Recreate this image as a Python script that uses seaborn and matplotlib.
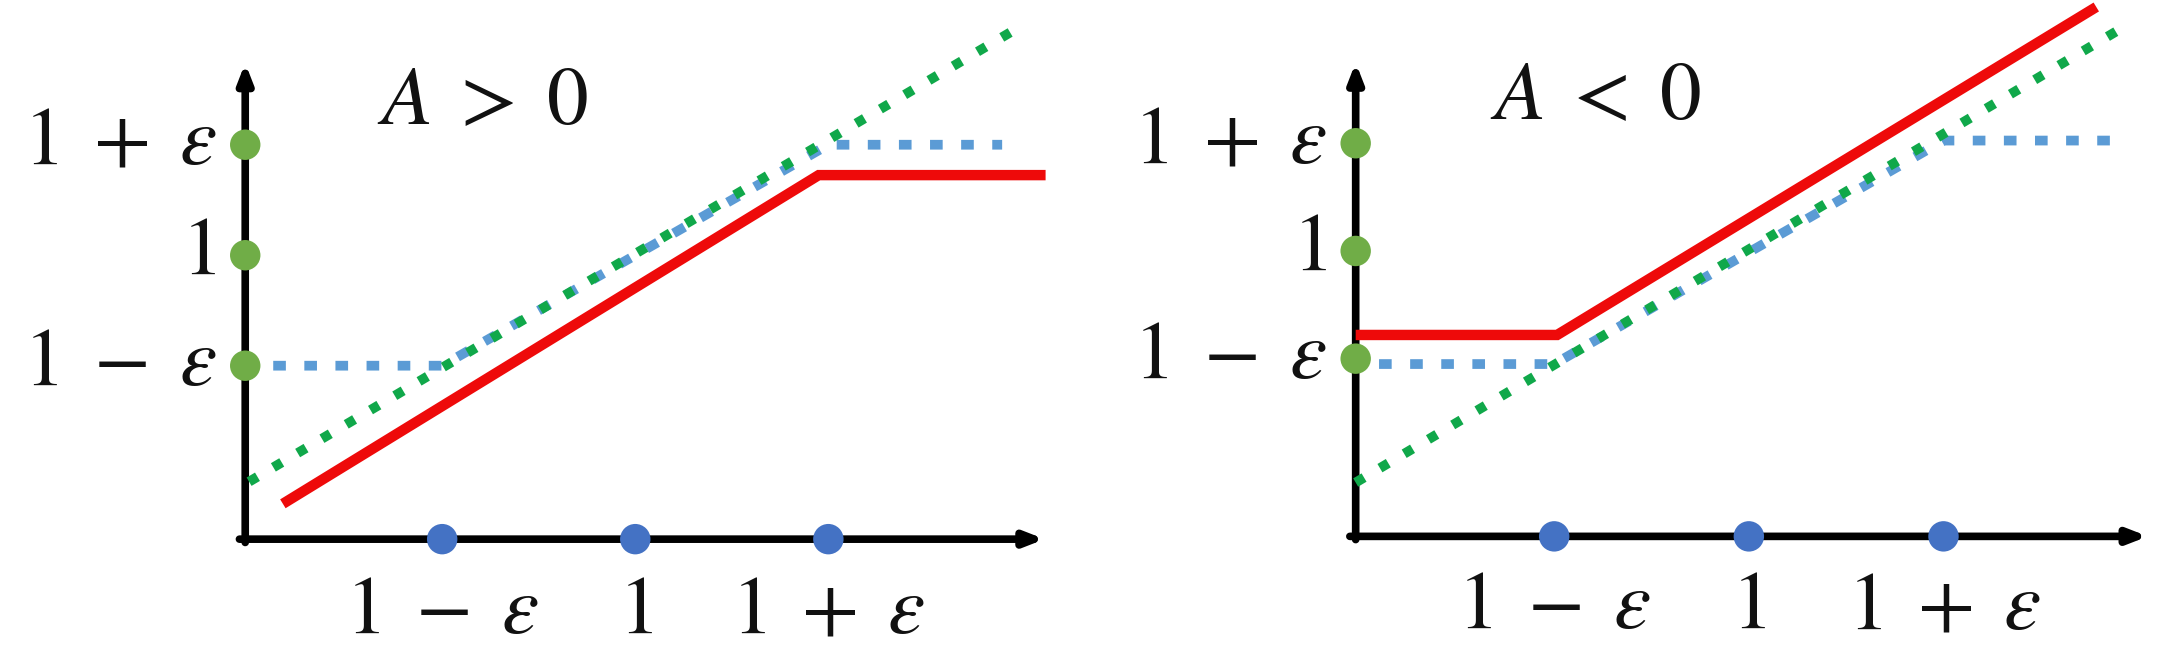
import matplotlib
matplotlib.use("Agg")
import matplotlib.pyplot as plt
import seaborn as sns

# ---------------- data ----------------
tick_vals = [0.8, 1.0, 1.2]
tick_labels = [r"$1\;-\;\varepsilon$", r"$1$", r"$1\;+\;\varepsilon$"]

# left panel (A > 0)
left_green_x = [0.60, 1.39]
left_green_y = [0.59, 1.405]
left_blue_x = [0.625, 0.80, 1.20, 1.38]
left_blue_y = [0.80, 0.80, 1.20, 1.20]
left_red_x = [0.635, 1.19, 1.425]
left_red_y = [0.55, 1.145, 1.145]

# right panel (A < 0)
right_green_x = [0.596, 1.389]
right_green_y = [0.57, 1.42]
right_blue_x = [0.62, 0.80, 1.20, 1.38]
right_blue_y = [0.79, 0.79, 1.205, 1.205]
right_red_x = [0.596, 0.803, 1.357]
right_red_y = [0.844, 0.844, 1.453]

titles = [r"$A\;>\;0$", r"$A\;<\;0$"]

sns.set_theme(style="white")
plt.rcParams["mathtext.fontset"] = "stix"
plt.rcParams["font.family"] = ["STIXGeneral", "DejaVu Serif"]

W, H = 2179, 664
fig = plt.figure(figsize=(W / 100, H / 100), dpi=100)

C_GREEN_LINE = "#10A84A"
C_BLUE_LINE = "#5B9BD5"
C_RED = "#EE0A0A"
C_GREEN_DOT = "#70AD47"
C_BLUE_DOT = "#4472C4"

panels = [
    dict(pos=[0, 0, 1090 / W, 1], xlim=(0.342, 1.471), ylim=(0.26, 1.462),
         ax0=(0.596, 0.486), xend=1.424, yend=1.348,
         g=(left_green_x, left_green_y), b=(left_blue_x, left_blue_y),
         r=(left_red_x, left_red_y), title_xy=(0.842, 1.272)),
    dict(pos=[1090 / W, 0, 1089 / W, 1], xlim=(0.323, 1.442), ylim=(0.233, 1.466),
         ax0=(0.596, 0.47), xend=1.41, yend=1.35,
         g=(right_green_x, right_green_y), b=(right_blue_x, right_blue_y),
         r=(right_red_x, right_red_y), title_xy=(0.843, 1.28)),
]

for i, p in enumerate(panels):
    ax = fig.add_axes(p["pos"])
    ax.set_xlim(*p["xlim"])
    ax.set_ylim(*p["ylim"])
    ax.axis("off")
    x0, y0 = p["ax0"]

    # axes with arrows
    ax.annotate("", xy=(p["xend"], y0), xytext=(x0 - 0.006, y0),
                arrowprops=dict(arrowstyle="-|>,head_length=0.9,head_width=0.35",
                                lw=5.5, color="black", shrinkA=0, shrinkB=0), zorder=2)
    ax.annotate("", xy=(x0, p["yend"]), xytext=(x0, y0 - 0.006),
                arrowprops=dict(arrowstyle="-|>,head_length=0.9,head_width=0.35",
                                lw=5.5, color="black", shrinkA=0, shrinkB=0), zorder=2)

    gx, gy = p["g"]
    bx, by = p["b"]
    rx, ry = p["r"]
    sns.lineplot(x=bx, y=by, ax=ax, color=C_BLUE_LINE, lw=7.0, sort=False,
                 linestyle=(0, (1.3, 1.9)), zorder=3)
    ax.lines[-1].set_dash_capstyle("butt")
    sns.lineplot(x=gx, y=gy, ax=ax, color=C_GREEN_LINE, lw=7.0, sort=False,
                 linestyle=(0, (1.0, 1.9)), zorder=4)
    ax.lines[-1].set_dash_capstyle("butt")
    sns.lineplot(x=rx, y=ry, ax=ax, color=C_RED, lw=7.5, sort=False, zorder=5)
    ax.lines[-1].set_solid_capstyle("butt")
    ax.lines[-1].set_solid_joinstyle("miter")

    # dots on axes
    sns.scatterplot(x=[x0] * 3, y=tick_vals, ax=ax, color=C_GREEN_DOT, s=480,
                    edgecolor="none", zorder=6)
    sns.scatterplot(x=tick_vals, y=[y0] * 3, ax=ax, color=C_BLUE_DOT, s=480,
                    edgecolor="none", zorder=6)

    # tick labels
    for v, lab in zip(tick_vals, tick_labels):
        ax.text(v, y0 - 0.135, lab, ha="center", va="center", fontsize=60, color="#111111")
        ax.text(x0 - 0.03, v, lab, ha="right", va="center", fontsize=60, color="#111111")

    ax.text(p["title_xy"][0], p["title_xy"][1], titles[i], ha="center", va="center",
            fontsize=60, color="#111111")

fig.savefig("out.png", dpi=100, facecolor="white")
